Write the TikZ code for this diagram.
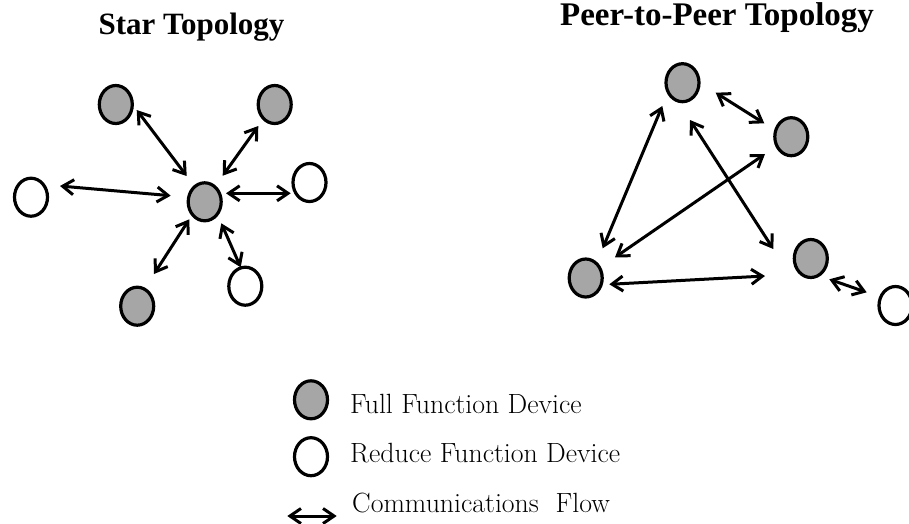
\documentclass[tikz,border=0pt]{standalone}
\usepackage{fontspec}
\newfontfamily\titlefont{Liberation Serif}
\usetikzlibrary{shapes.geometric,arrows.meta,calc}
\definecolor{devgray}{RGB}{166,166,166}
\tikzset{
  device/.style={ellipse, draw=black, line width=3.2pt, inner sep=0pt,
                 minimum width=33pt, minimum height=38pt},
  ffd/.style={device, fill=devgray},
  rfd/.style={device, fill=white},
  flow/.style={line width=3pt, draw=black,
               {Straight Barb[length=11pt,width=15pt]}-{Straight Barb[length=11pt,width=15pt]}},
  heading/.style={font=\titlefont\bfseries, anchor=base, inner sep=0pt},
  legendtext/.style={font=\fontsize{27.8}{32}\selectfont, anchor=base west, inner sep=0pt}
}
\begin{document}
\begin{tikzpicture}[x=1pt,y=-1pt]
\useasboundingbox (0,0) rectangle (909,523);

% headings
\node[heading, font=\titlefont\bfseries\fontsize{31}{36}\selectfont] (t1) at (191.5,34) {Star Topology};
\node[heading, font=\titlefont\bfseries\fontsize{33}{38}\selectfont] (t2) at (717,25) {Peer-to-Peer Topology};

% star topology
\node[ffd] (stl) at (115.8,104.5) {};
\node[ffd] (str) at (274.7,104.5) {};
\node[rfd] (sl)  at (31,197.2) {};
\node[ffd] (sc)  at (204.7,201.8) {};
\node[rfd] (sr)  at (309.5,182.5) {};
\node[ffd] (sbl) at (137.2,306.2) {};
\node[rfd] (sbr) at (245.3,286.2) {};

\draw[flow] ($(stl)+(20.9,5.5)$) -- ($(sc)+(-18,-25.8)$);
\draw[flow] ($(str)+(-16.4,21.5)$) -- ($(sc)+(18,-26.1)$);
\draw[flow] ($(sl)+(29,-11.2)$) -- ($(sc)+(-34,-6.1)$);
\draw[flow] ($(sc)+(21.3,-8.5)$) -- ($(sr)+(-18.8,10.8)$);
\draw[flow] ($(sc)+(-15.4,17.5)$) -- ($(sbl)+(16.8,-32.2)$);
\draw[flow] ($(sc)+(16.6,21.5)$) -- ($(sbr)+(-4.6,-18.9)$);

% peer-to-peer topology
\node[ffd] (pt) at (682.5,82.7) {};
\node[ffd] (pr) at (791.3,136.7) {};
\node[ffd] (pl) at (585.7,278) {};
\node[ffd] (pb) at (810.8,258.5) {};
\node[rfd] (pw) at (895.5,305.5) {};

\draw[flow] ($(pt)+(33.2,10)$) -- ($(pr)+(-27,-13.4)$);
\draw[flow] ($(pt)+(-20.2,23.3)$) -- ($(pl)+(17,-29.7)$);
\draw[flow] ($(pt)+(7.5,37.3)$) -- ($(pb)+(-37.5,-9.5)$);
\draw[flow] ($(pr)+(-26.3,17.3)$) -- ($(pl)+(29.3,-20.7)$);
\draw[flow] ($(pl)+(23.6,6.3)$) -- ($(pb)+(-45.8,17.5)$);
\draw[flow] ($(pb)+(18.5,20.8)$) -- ($(pw)+(-28.8,-13.2)$);

% legend
\node[ffd] (lf) at (311,399.8) {};
\node[rfd] (lr) at (311,456.7) {};
\coordinate (la) at (287.3,516);
\coordinate (lb) at (336.7,516);
\draw[flow] (la) -- (lb);
\node[legendtext] (lft) at (350,413) {Full Function Device};
\node[legendtext] (lrt) at (350,462) {Reduce Function Device};
\node[legendtext] (lct) at (352,512) {Communications\ \ Flow};
\end{tikzpicture}
\end{document}
